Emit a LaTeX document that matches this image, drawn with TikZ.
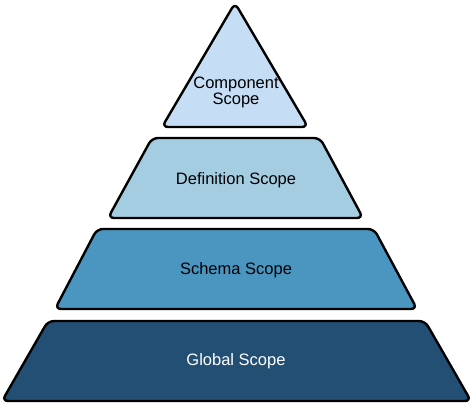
\documentclass[tikz,border=0pt]{standalone}
\usepackage{fontspec}
\setmainfont{Liberation Sans}
\definecolor{compC}{HTML}{C5DDF5}
\definecolor{defC}{HTML}{A4CDE1}
\definecolor{schC}{HTML}{4A96C0}
\definecolor{gloC}{HTML}{244F75}
\begin{document}
\begin{tikzpicture}[x=1pt,y=-1pt,
  layer/.style={draw=black,line width=2.4pt,rounded corners=6pt,line join=round},
  lbl/.style={font=\fontsize{16.5}{16}\selectfont,align=center,inner sep=0pt}]
\useasboundingbox (0,0) rectangle (473,403);
\fill[white] (0,0) rectangle (473,403);
\draw[layer,fill=compC] (235,3) -- (308,127) -- (162,127) -- cycle;
\draw[layer,fill=defC] (152,138) -- (320,138) -- (363,218) -- (108,218) -- cycle;
\draw[layer,fill=schC] (97,229) -- (374,229) -- (417,309) -- (55,309) -- cycle;
\draw[layer,fill=gloC] (48,321) -- (425,321) -- (471,401) -- (2,401) -- cycle;
\node[lbl] (comp) at (236,92) {Component\\Scope};
\node[lbl] (def) at (236,180) {Definition Scope};
\node[lbl] (sch) at (236,270) {Schema Scope};
\node[lbl,text=white] (glo) at (236,361) {Global Scope};
\end{tikzpicture}
\end{document}
